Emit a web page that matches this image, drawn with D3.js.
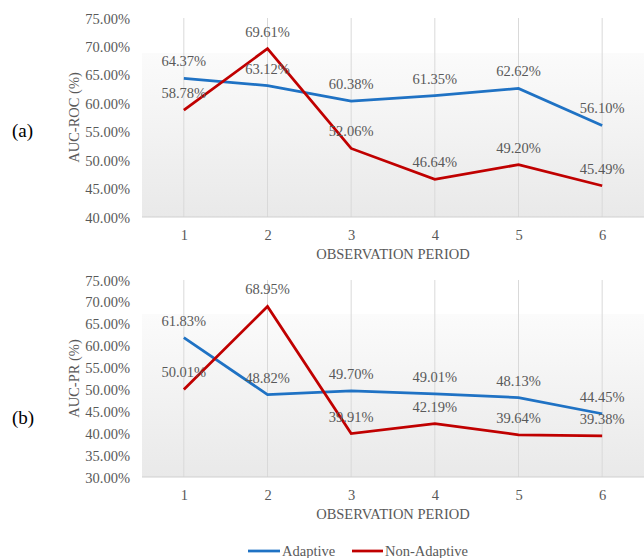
<!DOCTYPE html>
<html>
<head>
<meta charset="utf-8">
<script src="https://cdn.jsdelivr.net/npm/d3@7"></script>
<style>
  html, body { margin: 0; padding: 0; background: #ffffff; }
  svg { display: block; }
  text { font-family: "Liberation Serif", "Times New Roman", serif; }
</style>
</head>
<body>
<svg id="chart" width="644" height="558"></svg>
<script>
// Observation periods shared by both panels
const periods = ["1", "2", "3", "4", "5", "6"];
const seriesNames = ["Adaptive", "Non-Adaptive"];

// Panel (a): AUC-ROC (%)
const rocAdaptive = [64.37, 63.12, 60.38, 61.35, 62.62, 56.10];
const rocNonAdaptive = [58.78, 69.61, 52.06, 46.64, 49.20, 45.49];
const rocTicks = [40, 45, 50, 55, 60, 65, 70, 75];

// Panel (b): AUC-PR (%)
const prAdaptive = [61.83, 48.82, 49.70, 49.01, 48.13, 44.45];
const prNonAdaptive = [50.01, 68.95, 39.91, 42.19, 39.64, 39.38];
const prTicks = [30, 35, 40, 45, 50, 55, 60, 65, 70, 75];

const colors = { "Adaptive": "#1f72c4", "Non-Adaptive": "#c00000" };
const textGray = "#595959";

const svg = d3.select("#chart");

// Plot-area fill: white near the top, fading to light grey at the axis
const defs = svg.append("defs");
const grad = defs.append("linearGradient")
  .attr("id", "plotFill").attr("x1", 0).attr("y1", 0).attr("x2", 0).attr("y2", 1);
grad.append("stop").attr("offset", "0%").attr("stop-color", "#ffffff");
grad.append("stop").attr("offset", "17.5%").attr("stop-color", "#ffffff");
grad.append("stop").attr("offset", "17.5%").attr("stop-color", "#fbfbfb");
grad.append("stop").attr("offset", "100%").attr("stop-color", "#e9e9e9");

const x = d3.scalePoint().domain(periods).range([142, 644]).padding(0.5);

function drawPanel(opt) {
  const y = d3.scaleLinear().domain([opt.ticks[0], opt.ticks[opt.ticks.length - 1]])
    .range([opt.bottom, opt.top]);
  const g = svg.append("g");

  // plot background
  g.append("rect")
    .attr("x", x.range()[0]).attr("y", y.range()[1])
    .attr("width", x.range()[1] - x.range()[0])
    .attr("height", y.range()[0] - y.range()[1])
    .attr("fill", "url(#plotFill)");

  // vertical gridlines at each period
  g.selectAll(".vgrid").data(periods).join("line")
    .attr("x1", d => x(d)).attr("x2", d => x(d))
    .attr("y1", y.range()[1]).attr("y2", y.range()[0])
    .attr("stroke", "#d9d9d9").attr("stroke-width", 1);

  // category axis
  const xAxis = g.append("g")
    .attr("transform", `translate(0,${opt.bottom})`)
    .call(d3.axisBottom(x).tickSize(0).tickPadding(18));
  xAxis.select(".domain").attr("stroke", "#d0d0d0").attr("stroke-width", 1.2)
    .attr("d", `M${x.range()[0]},0H${x.range()[1]}`);
  xAxis.selectAll("text")
    .attr("fill", textGray).attr("font-size", "14.5px")
    .attr("font-family", "Liberation Serif, serif")
    .attr("dy", null).attr("y", 18).attr("dominant-baseline", "central");

  // value axis (labels only)
  const yAxis = g.append("g")
    .attr("transform", "translate(130,0)")
    .call(d3.axisLeft(y).tickValues(opt.ticks).tickSize(0).tickPadding(0)
      .tickFormat(d => d3.format(".2f")(d) + "%"));
  yAxis.select(".domain").remove();
  yAxis.selectAll("text")
    .attr("fill", textGray).attr("font-size", "14.5px")
    .attr("font-family", "Liberation Serif, serif")
    .attr("x", 0).attr("dy", null).attr("dominant-baseline", "central");

  // axis titles
  g.append("text")
    .attr("x", (x.range()[0] + x.range()[1]) / 2).attr("y", opt.bottom + 37)
    .attr("text-anchor", "middle").attr("dominant-baseline", "central")
    .attr("fill", textGray).attr("font-size", "14.5px")
    .text("OBSERVATION PERIOD");
  g.append("text")
    .attr("transform", `translate(74,${(opt.top + opt.bottom) / 2}) rotate(-90)`)
    .attr("text-anchor", "middle").attr("dominant-baseline", "central")
    .attr("fill", textGray).attr("font-size", "14.5px")
    .text(opt.yTitle);

  // panel tag
  g.append("text")
    .attr("x", 12).attr("y", opt.tagY)
    .attr("dominant-baseline", "central")
    .attr("fill", "#000000").attr("font-size", "19px")
    .text(opt.tag);

  const line = d3.line().x((d, i) => x(periods[i])).y(d => y(d));
  const series = [
    { name: "Adaptive", values: opt.adaptive },
    { name: "Non-Adaptive", values: opt.nonAdaptive }
  ];

  series.forEach(s => {
    g.append("path")
      .datum(s.values)
      .attr("d", line)
      .attr("fill", "none")
      .attr("stroke", colors[s.name])
      .attr("stroke-width", 2.75)
      .attr("stroke-linejoin", "miter");
  });

  // data labels above each point
  series.forEach(s => {
    g.selectAll(null).data(s.values).join("text")
      .attr("x", (d, i) => x(periods[i]))
      .attr("y", d => y(d) - 17)
      .attr("text-anchor", "middle").attr("dominant-baseline", "central")
      .attr("fill", textGray).attr("font-size", "14.5px")
      .text(d => d3.format(".2f")(d) + "%");
  });
}

drawPanel({
  top: 18, bottom: 217, ticks: rocTicks,
  adaptive: rocAdaptive, nonAdaptive: rocNonAdaptive,
  yTitle: "AUC-ROC (%)", tag: "(a)", tagY: 130
});

drawPanel({
  top: 280, bottom: 477, ticks: prTicks,
  adaptive: prAdaptive, nonAdaptive: prNonAdaptive,
  yTitle: "AUC-PR (%)", tag: "(b)", tagY: 417
});

// legend
const legendItems = [
  { name: seriesNames[0], x1: 248, x2: 280 },
  { name: seriesNames[1], x1: 352, x2: 383 }
];
const legend = svg.append("g");
legendItems.forEach(item => {
  legend.append("line")
    .attr("x1", item.x1).attr("x2", item.x2)
    .attr("y1", 551).attr("y2", 551)
    .attr("stroke", colors[item.name]).attr("stroke-width", 2.75);
  legend.append("text")
    .attr("x", item.x2 + 2).attr("y", 551)
    .attr("dominant-baseline", "central")
    .attr("fill", textGray).attr("font-size", "14.5px")
    .text(item.name);
});
</script>
</body>
</html>
